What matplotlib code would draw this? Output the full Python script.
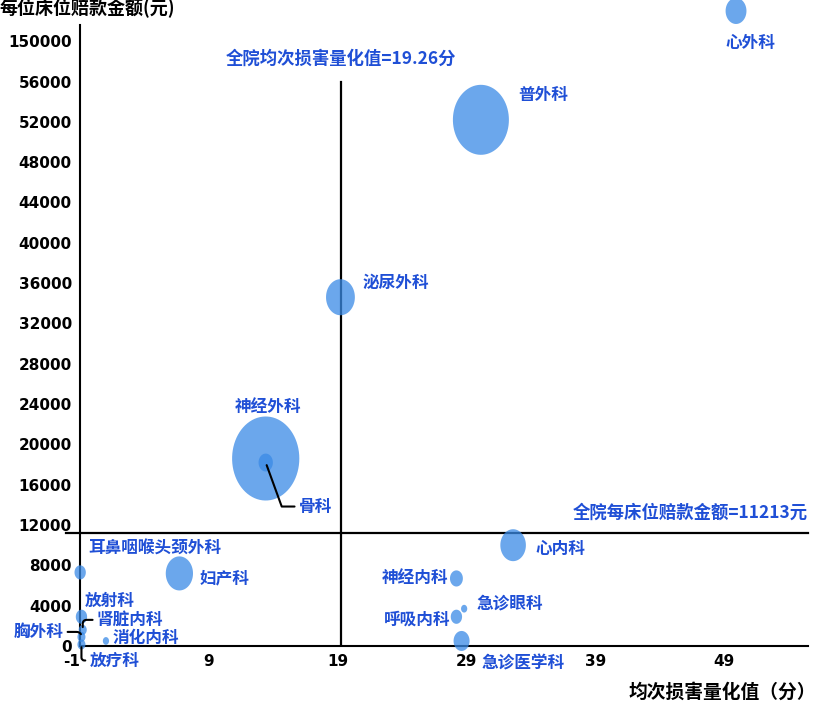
import numpy as np
import matplotlib
matplotlib.use("Agg")
import matplotlib.pyplot as plt
from matplotlib.path import Path

plt.rcParams['font.family'] = ['Noto Sans CJK SC', 'DejaVu Sans']
plt.rcParams['axes.unicode_minus'] = False

# Data
depts = ["心外科", "普外科", "泌尿外科", "神经外科", "骨科", "心内科",
         "神经内科", "急诊眼科", "呼吸内科", "急诊医学科", "妇产科",
         "耳鼻咽喉头颈外科", "放射科", "肾脏内科", "胸外科", "放疗科", "消化内科"]
score = [49.9, 30.1, 19.2, 13.4, 13.4, 32.6,
         28.2, 28.8, 28.2, 28.6, 6.7,
         -1.0, -0.9, -0.8, -0.9, -0.9, 1.0]
claim = [153000, 52200, 34600, 18600, 18200, 10000,
         6700, 3700, 2900, 500, 7200,
         7300, 2900, 1600, 900, 150, 500]
bubble = [68, 490, 130, 706, 32, 102,
          26, 6, 20, 40, 116,
          20, 20, 10, 10, 10, 6]

mean_score = 19.26
mean_claim = 11213
y_ticks = [0, 4000, 8000, 12000, 16000, 20000, 24000, 28000, 32000,
           36000, 40000, 44000, 48000, 52000, 56000]
top_tick = 150000


def to_plot(v):
    # broken y axis: 150000 drawn where 60000 would be
    return v if v <= 60000 else v - (top_tick - 60000)


blue_txt = '#1f4fd6'
bubble_col = '#3a8ae6'

fig = plt.figure(figsize=(8.18, 7.04), dpi=100)
ax = fig.add_axes([0.098, 0.0824, 0.89, 0.882])

# vertically stretched ellipse marker
t = np.linspace(0, 2 * np.pi, 80)
ell = Path(np.column_stack([0.8 * np.cos(t), np.sin(t)]), closed=True)

ys = [to_plot(v) for v in claim]
sizes = [b * 10 * 0.72 ** 2 for b in bubble]
ax.scatter(score, ys, s=sizes, marker=ell, color=bubble_col, alpha=0.75,
           linewidths=0, clip_on=False, zorder=3)

# reference lines
ax.axhline(mean_claim, xmin=-0.02, color='black', lw=1.6, clip_on=False, zorder=2)
ax.plot([mean_score, mean_score], [0, 56000], color='black', lw=1.6, zorder=2)
ax.text(mean_score, 58300, "全院均次损害量化值=19.26分", color=blue_txt,
        fontsize=12.5, fontweight='bold', ha='center', va='center')
ax.text(55.5, 13200, "全院每床位赔款金额=11213元", color=blue_txt,
        fontsize=12.5, fontweight='bold', ha='right', va='center')

# labels: (dx, dy) in pixels, ha
lab = {
    "心外科": (14, -32, 'center'),
    "普外科": (37, 25, 'left'),
    "泌尿外科": (22, 14, 'left'),
    "神经外科": (2, 52, 'center'),
    "骨科": (33, -44, 'left'),
    "心内科": (22, -4, 'left'),
    "神经内科": (-8, 0, 'right'),
    "急诊眼科": (12, 5, 'left'),
    "呼吸内科": (-6, -3, 'right'),
    "急诊医学科": (20, -23, 'left'),
    "妇产科": (20, -5, 'left'),
    "耳鼻咽喉头颈外科": (8, 24, 'left'),
    "放射科": (3, 16, 'left'),
    "肾脏内科": (14, 10, 'left'),
    "胸外科": (-18, 5, 'right'),
    "放疗科": (8, -16, 'left'),
    "消化内科": (7, 3, 'left'),
}
leader = {"骨科": "angle,angleA=0,angleB=-70,rad=0",
          "肾脏内科": "angle,angleA=0,angleB=-90,rad=4",
          "胸外科": "angle,angleA=0,angleB=90,rad=5",
          "放疗科": "angle,angleA=0,angleB=90,rad=3"}

for name, x, y in zip(depts, score, ys):
    dx, dy, ha = lab[name]
    kw = {}
    if name in leader:
        kw['arrowprops'] = dict(arrowstyle='-', color='black', lw=1.5,
                                connectionstyle=leader[name],
                                shrinkA=1, shrinkB=2)
    ax.annotate(name, (x, y), xytext=(dx, dy), textcoords='offset pixels',
                color=blue_txt, fontsize=12, fontweight='bold', ha=ha,
                va='center', annotation_clip=False, zorder=4, **kw)

ax.set_xlim(-1, 55.5)
ax.set_ylim(0, 61600)
ax.set_xticks([-1, 9, 19, 29, 39, 49])
ax.set_yticks(y_ticks + [60000])
ax.set_yticklabels([str(v) for v in y_ticks] + [str(top_tick)])
ax.tick_params(length=0, labelsize=11, pad=6)
for lbl in ax.get_xticklabels() + ax.get_yticklabels():
    lbl.set_fontweight('bold')
    lbl.set_family('DejaVu Sans')
ax.get_xticklabels()[0].set_ha('right')

for s in ['top', 'right']:
    ax.spines[s].set_visible(False)
for s in ['left', 'bottom']:
    ax.spines[s].set_linewidth(1.5)

fig.text(0.0, 0.988, "每位床位赔款金额(元)", fontsize=13, fontweight='bold',
         ha='left', va='center')
fig.text(0.997, 0.017, "均次损害量化值（分）", fontsize=13.5, fontweight='bold',
         ha='right', va='center')

fig.savefig("out.png", dpi=100, facecolor='white')
